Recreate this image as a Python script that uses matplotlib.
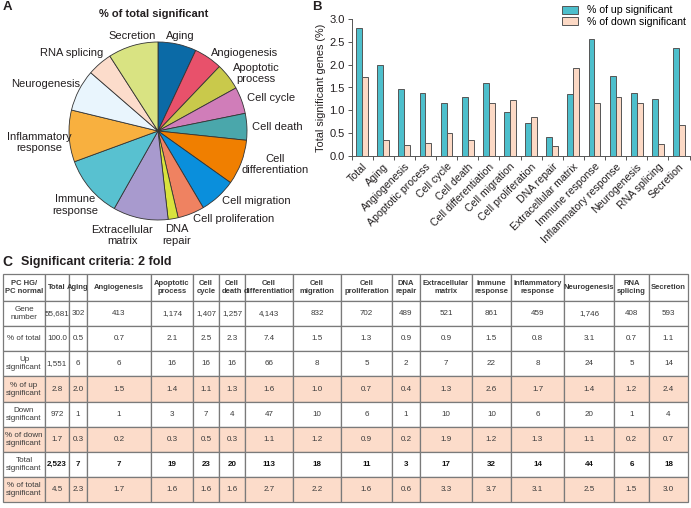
import numpy as np
import matplotlib
matplotlib.use('Agg')
import matplotlib.pyplot as plt

plt.rcParams['font.family'] = ['Liberation Sans', 'DejaVu Sans']

# ---- data ----
categories = ['Total', 'Aging', 'Angiogenesis', 'Apoptotic process', 'Cell cycle',
              'Cell death', 'Cell differentiation', 'Cell migration',
              'Cell proliferation', 'DNA repair', 'Extracellular matrix',
              'Immune response', 'Inflammatory response', 'Neurogenesis',
              'RNA splicing', 'Secretion']
pie_labels = ['Aging', 'Angiogenesis', 'Apoptotic\nprocess', 'Cell cycle', 'Cell death',
              'Cell\ndifferentiation', 'Cell migration', 'Cell proliferation',
              'DNA\nrepair', 'Extracellular\nmatrix', 'Immune\nresponse',
              'Inflammatory\nresponse', 'Neurogenesis', 'RNA splicing', 'Secretion']
pie_colors = ['#0b6aa6', '#e8516b', '#c9c94b', '#d07db9', '#4aa7ab', '#f07f00',
              '#0a8fdc', '#ef8261', '#d9e33d', '#a89ace', '#58c1d0', '#f8b03f',
              '#e9f5fd', '#fcdccb', '#d9e382']

table_header = ['PC HG/\nPC normal', 'Total', 'Aging', 'Angiogenesis', 'Apoptotic\nprocess',
                'Cell\ncycle', 'Cell\ndeath', 'Cell\ndifferentiation', 'Cell\nmigration',
                'Cell\nproliferation', 'DNA\nrepair', 'Extracellular\nmatrix',
                'Immune\nresponse', 'Inflammatory\nresponse', 'Neurogenesis',
                'RNA\nsplicing', 'Secretion']
row_labels = ['Gene\nnumber', '% of total', 'Up\nsignificant', '% of up\nsignificant',
              'Down\nsignificant', '% of down\nsignificant', 'Total\nsignificant',
              '% of total\nsignificant']

gene_number = [55681, 302, 413, 1174, 1407, 1257, 4143, 832, 702, 489, 521, 861, 459, 1746, 408, 593]
pct_total = [100.0, 0.5, 0.7, 2.1, 2.5, 2.3, 7.4, 1.5, 1.3, 0.9, 0.9, 1.5, 0.8, 3.1, 0.7, 1.1]
up_sig = [1551, 6, 6, 16, 16, 16, 66, 8, 5, 2, 7, 22, 8, 24, 5, 14]
pct_up = [2.8, 2.0, 1.5, 1.4, 1.1, 1.3, 1.6, 1.0, 0.7, 0.4, 1.3, 2.6, 1.7, 1.4, 1.2, 2.4]
down_sig = [972, 1, 1, 3, 7, 4, 47, 10, 6, 1, 10, 10, 6, 20, 1, 4]
pct_down = [1.7, 0.3, 0.2, 0.3, 0.5, 0.3, 1.1, 1.2, 0.9, 0.2, 1.9, 1.2, 1.3, 1.1, 0.2, 0.7]
total_sig = [2523, 7, 7, 19, 23, 20, 113, 18, 11, 3, 17, 32, 14, 44, 6, 18]
pct_total_sig = [4.5, 2.3, 1.7, 1.6, 1.6, 1.6, 2.7, 2.2, 1.6, 0.6, 3.3, 3.7, 3.1, 2.5, 1.5, 3.0]

# bar heights as drawn in panel B
bar_up = [2.80, 2.00, 1.46, 1.37, 1.15, 1.29, 1.60, 0.97, 0.72, 0.42, 1.35, 2.56, 1.75, 1.39, 1.24, 2.37]
bar_down = [1.74, 0.34, 0.25, 0.28, 0.51, 0.34, 1.15, 1.22, 0.86, 0.21, 1.93, 1.17, 1.30, 1.15, 0.26, 0.68]

W, H = 691, 508
fig = plt.figure(figsize=(W / 100, H / 100), dpi=100)
txt = '#231f20'


def fx(px):
    return px / W


def fy(py):
    return 1 - py / H


# ---- A: pie ----
fig.text(fx(3), fy(7), 'A', fontsize=9.5, fontweight='bold', va='center', color=txt)
fig.text(fx(154), fy(14), '% of total significant', fontsize=8, fontweight='bold',
         ha='center', va='center', color=txt)
R = 89  # pie radius in pixels
axp = fig.add_axes([fx(158 - R), fy(131 + R), 2 * R / W, 2 * R / H])
wedges, texts = axp.pie(pct_total_sig[1:], labels=pie_labels, colors=pie_colors,
                        startangle=90, counterclock=False, labeldistance=1.06,
                        wedgeprops=dict(edgecolor='#333333', linewidth=0.6),
                        textprops=dict(fontsize=8, color=txt))
# hand nudges (pixels) so labels sit where the original placed them
nudge = {'Aging': (-13, 3), 'Secretion': (24, 4), 'RNA splicing': (7, 7),
         'Neurogenesis': (6, 4), 'Inflammatory\nresponse': (8, -6),
         'Immune\nresponse': (12, -13), 'Extracellular\nmatrix': (14, -12),
         'DNA\nrepair': (-12, -11), 'Cell\ndifferentiation': (-5, 0)}
for t in texts:
    t.set_multialignment('center')
    dx, dy = nudge.get(t.get_text(), (0, 0))
    px, py = t.get_position()
    t.set_position((px + dx / R, py + dy / R))
axp.set_xlim(-1, 1)
axp.set_ylim(-1, 1)

# ---- B: bars ----
fig.text(fx(312), fy(7), 'B', fontsize=9.5, fontweight='bold', va='center', color=txt)
axb = fig.add_axes([fx(351.5), fy(156), 338 / W, 137 / H])
x = np.arange(len(categories))
bw = 0.28
axb.bar(x - bw / 2, bar_up, bw, color='#4dbfcc', edgecolor='#555555', linewidth=0.7,
        label='% of up significant')
axb.bar(x + bw / 2, bar_down, bw, color='#fcd9c5', edgecolor='#555555', linewidth=0.7,
        label='% of down significant')
axb.set_xlim(-0.5, len(categories) - 0.5)
axb.set_ylim(0, 3.0)
axb.set_yticks(np.arange(0, 3.01, 0.5))
axb.set_yticklabels(['%.1f' % v for v in np.arange(0, 3.01, 0.5)], fontsize=8, color=txt)
axb.set_xticks(x)
axb.set_xticklabels(categories, rotation=45, ha='right', rotation_mode='anchor',
                    fontsize=7.6, color=txt)
axb.set_xticks(np.arange(-0.5, len(categories)), minor=True)
axb.tick_params(axis='x', which='major', length=0, pad=4)
axb.tick_params(axis='x', which='minor', length=3, width=0.7, color='#555555')
axb.tick_params(axis='y', length=3, width=0.7, color='#555555', pad=2)
for s in ['top', 'right']:
    axb.spines[s].set_visible(False)
for s in ['left', 'bottom']:
    axb.spines[s].set_color('#555555')
    axb.spines[s].set_linewidth(0.7)
axb.set_ylabel('Total significant genes (%)', fontsize=7.8, color=txt, labelpad=2)
axb.legend(loc='upper right', bbox_to_anchor=(fx(693), fy(-2)),
           bbox_transform=fig.transFigure, fontsize=7.6, frameon=False,
           handlelength=1.5, handleheight=0.8, handletextpad=0.8,
           labelspacing=0.15, borderpad=0.2)

# ---- C: table ----
fig.text(fx(2), fy(262), 'C', fontsize=10, fontweight='bold', va='center', color=txt)
fig.text(fx(21), fy(262), 'Significant criteria: 2 fold', fontsize=9, fontweight='bold',
         va='center', color=txt)


def fmt_int(v):
    return '{:,}'.format(v)


def fmt_pct(v):
    return '%.1f' % v


rows = [
    [fmt_int(v) for v in gene_number],
    [fmt_pct(v) for v in pct_total],
    [fmt_int(v) for v in up_sig],
    [fmt_pct(v) for v in pct_up],
    [fmt_int(v) for v in down_sig],
    [fmt_pct(v) for v in pct_down],
    [fmt_int(v) for v in total_sig],
    [fmt_pct(v) for v in pct_total_sig],
]
cell_text = [[lab] + r for lab, r in zip(row_labels, rows)]
col_px = [42, 24, 18, 64, 42, 26, 26, 48, 48, 51, 28, 52, 39, 53, 50, 35, 39]
col_w = [c / sum(col_px) for c in col_px]

axt = fig.add_axes([fx(3), fy(502), 685 / W, 228 / H])
axt.axis('off')
tab = axt.table(cellText=cell_text, colLabels=table_header, colWidths=col_w,
                cellLoc='center', bbox=[0, 0, 1, 1])
tab.auto_set_font_size(False)
tab.set_fontsize(5.8)
shaded = {4, 6, 8}
for (r, c), cell in tab.get_celld().items():
    cell.set_edgecolor('#7a7a7a')
    cell.set_linewidth(0.9)
    cell.get_text().set_color('#3a3a3a')
    cell.PAD = 0.02
    if r == 0:
        cell.set_height(27)
        cell.get_text().set_fontweight('bold')
        cell.get_text().set_fontsize(5.5)
    else:
        cell.set_height(25)
    if r in shaded:
        cell.set_facecolor('#fcdcca')
    if r == 7 and c > 0:
        cell.get_text().set_fontweight('bold')
        cell.get_text().set_color('#111111')

fig.savefig('out.png', dpi=100)
